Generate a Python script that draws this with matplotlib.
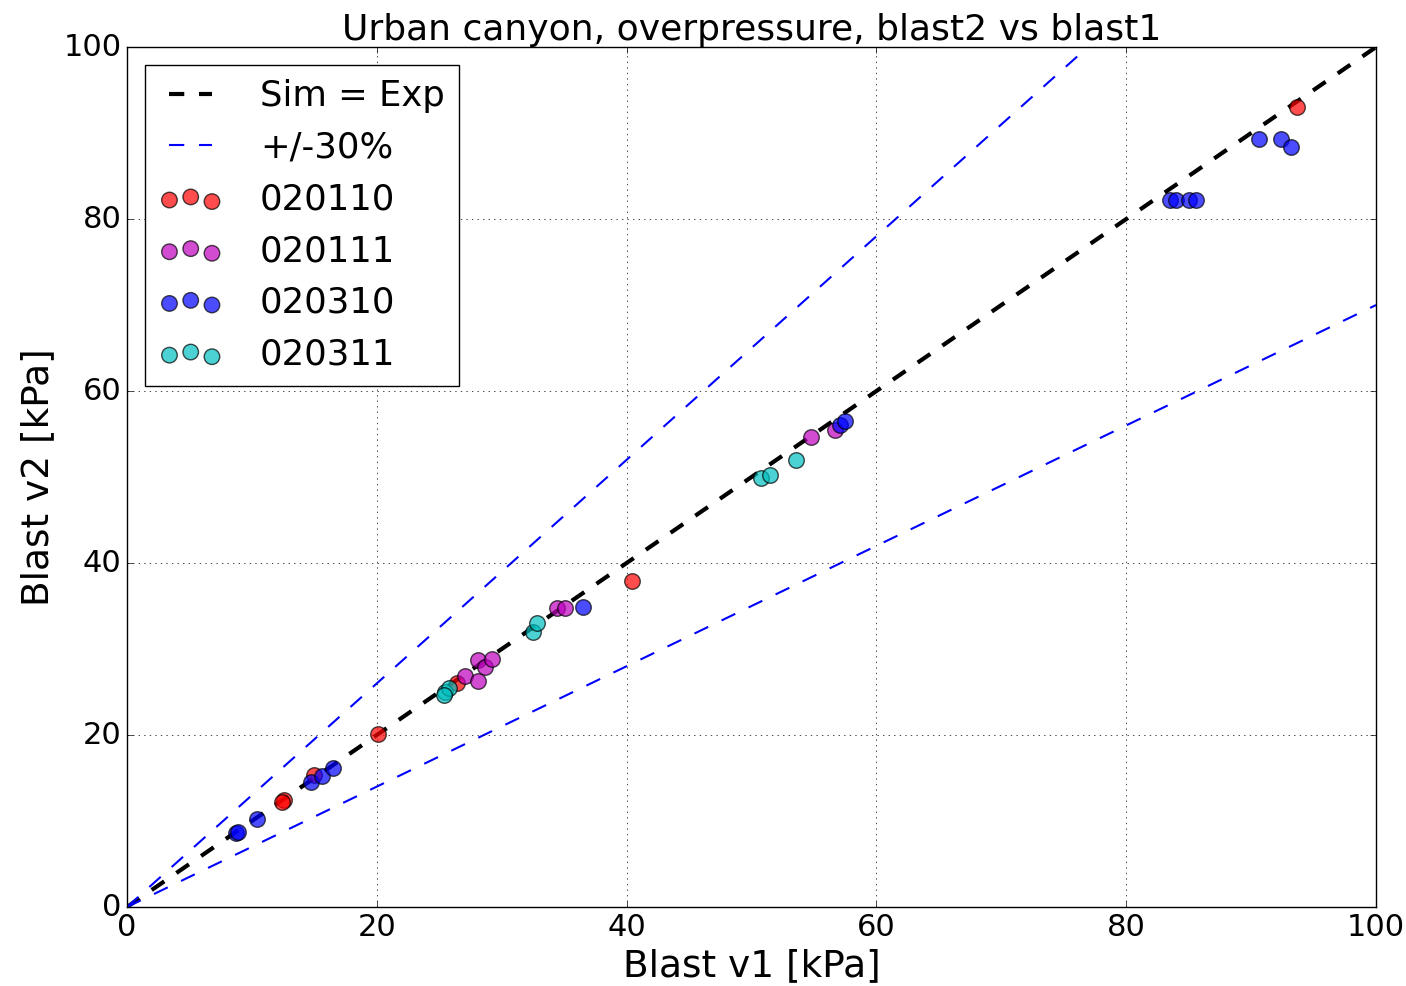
import numpy as np
import matplotlib
matplotlib.use("Agg")
import matplotlib.pyplot as plt

# blast v1 (x) vs blast v2 (y), kPa, per test
x_020110 = [93.7, 40.4, 20.1, 12.6, 12.4, 26.4, 15.0]
y_020110 = [93.0, 37.9, 20.1, 12.4, 12.2, 26.0, 15.4]

x_020111 = [28.1, 28.7, 29.2, 27.1, 28.1, 34.4, 35.1, 54.8, 56.7]
y_020111 = [28.7, 27.9, 28.8, 26.9, 26.3, 34.8, 34.8, 54.7, 55.5]

x_020310 = [8.7, 8.9, 10.4, 14.7, 15.6, 16.5, 36.5, 57.1, 57.5,
            83.5, 84.0, 85.0, 85.6, 90.6, 92.4, 93.2]
y_020310 = [8.6, 8.7, 10.2, 14.5, 15.2, 16.2, 34.9, 56.0, 56.5,
            82.2, 82.2, 82.2, 82.2, 89.3, 89.3, 88.4]

x_020311 = [25.5, 25.8, 25.4, 32.5, 32.8, 50.8, 51.5, 53.6]
y_020311 = [25.0, 25.5, 24.7, 32.0, 33.0, 49.9, 50.2, 52.0]

series = [("020110", x_020110, y_020110, "r"),
          ("020111", x_020111, y_020111, "m"),
          ("020310", x_020310, y_020310, "b"),
          ("020311", x_020311, y_020311, "c")]

plt.style.use("classic")
plt.rcParams["figure.facecolor"] = "white"
plt.rcParams["savefig.facecolor"] = "white"
plt.rcParams["lines.scale_dashes"] = False

fig = plt.figure(figsize=(14.06, 9.86), dpi=100)
ax = fig.add_axes([0.0903, 0.0801, 0.8884, 0.8722])

ref = np.array([0, 100])
ax.plot(ref, ref, "k--", lw=3, dashes=(11, 10.6), label="Sim = Exp")
ax.plot(ref, 1.3 * ref, "b--", lw=1.5, dashes=(11, 10.6), label="+/-30%")
ax.plot(ref, 0.7 * ref, "b--", lw=1.5, dashes=(11, 10.6))

for name, xs, ys, c in series:
    ax.scatter(xs, ys, s=125, c=c, alpha=0.7, edgecolors="k", linewidths=1.0,
               label=name, zorder=3)

ax.set_xlim(0, 100)
ax.set_ylim(0, 100)
ax.grid(True)
ax.tick_params(labelsize=22)
ax.set_xlabel("Blast v1 [kPa]", fontsize=27)
ax.set_ylabel("Blast v2 [kPa]", fontsize=27)
ax.set_title("Urban canyon, overpressure, blast2 vs blast1", fontsize=26)
ax.legend(loc="upper left", fontsize=25.5, scatterpoints=3, handlelength=1.8,
          handletextpad=1.05)

fig.savefig("out.png", dpi=100)
